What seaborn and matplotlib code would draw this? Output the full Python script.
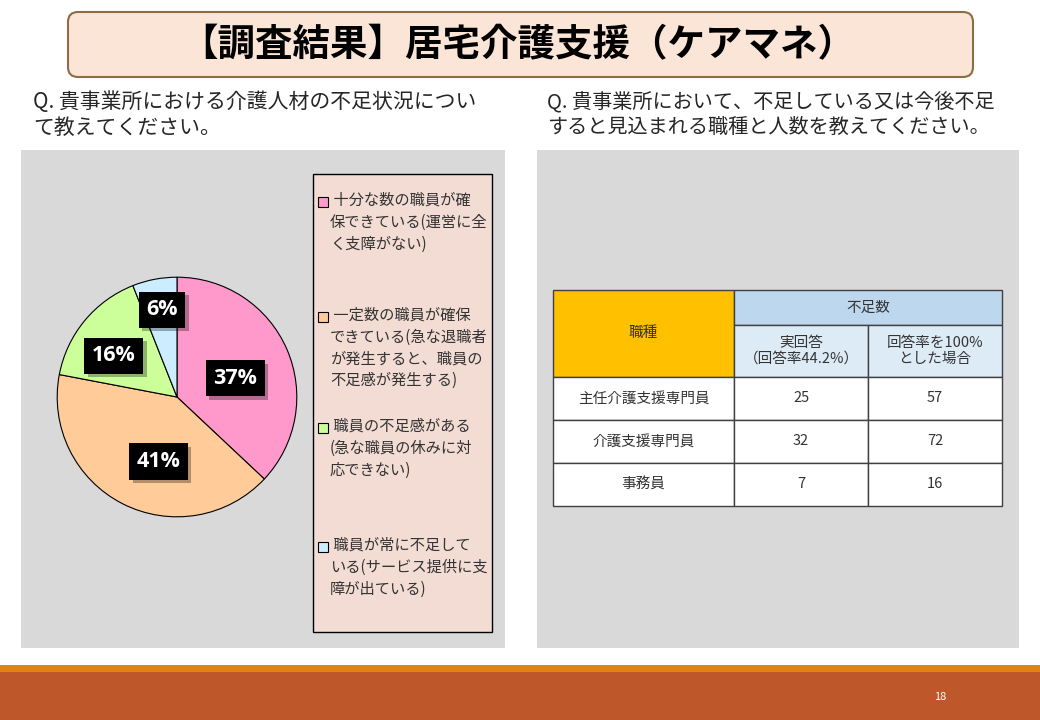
import seaborn as sns
import matplotlib.pyplot as plt
import matplotlib.patheffects as pe
import numpy as np
from matplotlib.patches import Rectangle, FancyBboxPatch

W, H = 1040, 720

# --- data ---
title = '【調査結果】居宅介護支援（ケアマネ）'
q_left = 'Q. 貴事業所における介護人材の不足状況につい\nて教えてください。'
q_right = 'Q. 貴事業所において、不足している又は今後不足\nすると見込まれる職種と人数を教えてください。'

status_labels = [
    ' 十分な数の職員が確\n保できている(運営に全\nく支障がない)',
    ' 一定数の職員が確保\nできている(急な退職者\nが発生すると、職員の\n不足感が発生する)',
    ' 職員の不足感がある\n(急な職員の休みに対\n応できない)',
    ' 職員が常に不足して\nいる(サービス提供に支\n障が出ている)',
]
status_share = [37, 41, 16, 6]
status_colors = ['#FF99CC', '#FFCC99', '#CCFF99', '#CCECFF']

table_head = '職種'
table_group = '不足数'
table_sub = ['実回答\n（回答率44.2%）', '回答率を100%\nとした場合']
job_types = ['主任介護支援専門員', '介護支援専門員', '事務員']
shortage_actual = [25, 32, 7]
shortage_full = [57, 72, 16]
page_no = '18'

sns.set_theme(style='white')
plt.rcParams['font.family'] = ['Noto Sans CJK JP', 'DejaVu Sans']

fig = plt.figure(figsize=(10.4, 7.2), dpi=100)


def box(x0, y0, x1, y1):
    return [x0 / W, 1 - y1 / H, (x1 - x0) / W, (y1 - y0) / H]


# slide background and decorations (pixel coordinates)
bg = fig.add_axes([0, 0, 1, 1])
bg.set_xlim(0, W)
bg.set_ylim(H, 0)
bg.axis('off')

bg.add_patch(FancyBboxPatch((68, 12), 905, 65, boxstyle='round,pad=0,rounding_size=10',
                            fc='#FBE5D6', ec='#8C6D46', lw=1.5))
bg.text(518, 45, title, ha='center', va='center', fontsize=27, fontweight='bold', color='black')

bg.text(33, 115, q_left, ha='left', va='center', fontsize=15, color='#262626', linespacing=1.2)
bg.text(547, 115, q_right, ha='left', va='center', fontsize=14.5, color='#262626', linespacing=1.2)

bg.add_patch(Rectangle((21, 150), 484, 498, fc='#D9D9D9', ec='none'))
bg.add_patch(Rectangle((537, 150), 482, 498, fc='#D9D9D9', ec='none'))

# legend panel
bg.add_patch(Rectangle((313, 174), 179, 458, fc='#F3DCD4', ec='black', lw=1))
legend_y = [202, 317, 428, 547]
for lab, col, y in zip(status_labels, status_colors, legend_y):
    bg.add_patch(Rectangle((318, y - 5), 10, 10, fc=col, ec='black', lw=0.8))
    bg.text(330, y - 10, lab, ha='left', va='top', fontsize=11, color='#333333', linespacing=1.36)

# footer
bg.add_patch(Rectangle((0, 665), W, 7, fc='#E1831B', ec='none'))
bg.add_patch(Rectangle((0, 672), W, 48, fc='#BE582B', ec='none'))
bg.text(940, 697, page_no, ha='center', va='center', fontsize=8, color='white')

# pie
ax = fig.add_axes(box(56, 276, 298, 518))
wedges, _ = ax.pie(status_share, colors=status_colors, startangle=90, counterclock=False,
                   wedgeprops=dict(edgecolor='black', linewidth=0.8))
ax.set_xlim(-1.01, 1.01)
ax.set_ylim(-1.01, 1.01)
ax.set_aspect('equal')
ax.axis('off')

label_r = [0.51, 0.56, 0.63, 0.74]
label_turn = [-5.5, 11, 6.5, -1]
for w, v, r, d in zip(wedges, status_share, label_r, label_turn):
    ang = np.deg2rad((w.theta1 + w.theta2) / 2 + d)
    t = ax.text(r * np.cos(ang), r * np.sin(ang), f'{v}%', ha='center', va='center',
                color='white', fontsize=15.5, fontweight='bold', family='Open Sans',
                bbox=dict(boxstyle='square,pad=0.35', fc='black', ec='none'))
    t.get_bbox_patch().set_path_effects([pe.SimplePatchShadow(offset=(2.5, -2.5), alpha=0.3),
                                         pe.Normal()])

# table
tb = fig.add_axes(box(553, 290, 1002, 506))
col_w = [181, 134, 134]
row_h = [35, 52, 43, 43, 43]
tw, th = sum(col_w), sum(row_h)
tb.set_xlim(0, tw)
tb.set_ylim(th, 0)
tb.axis('off')
edge = dict(ec='#404040', lw=1, clip_on=False)
txt = dict(ha='center', va='center', fontsize=10.5, color='#333333')

hh = row_h[0] + row_h[1]
tb.add_patch(Rectangle((0, 0), col_w[0], hh, fc='#FFC000', **edge))
tb.text(col_w[0] / 2, hh / 2, table_head, **txt)
tb.add_patch(Rectangle((col_w[0], 0), col_w[1] + col_w[2], row_h[0], fc='#BDD7EE', **edge))
tb.text(col_w[0] + (col_w[1] + col_w[2]) / 2, row_h[0] / 2, table_group, **txt)
x = col_w[0]
for lab, cw in zip(table_sub, col_w[1:]):
    tb.add_patch(Rectangle((x, row_h[0]), cw, row_h[1], fc='#DDEBF7', **edge))
    tb.text(x + cw / 2, row_h[0] + row_h[1] / 2, lab, linespacing=1.15, **txt)
    x += cw

y = hh
for job, a, f, rh in zip(job_types, shortage_actual, shortage_full, row_h[2:]):
    x = 0
    for val, cw in zip([job, a, f], col_w):
        tb.add_patch(Rectangle((x, y), cw, rh, fc='white', **edge))
        tb.text(x + cw / 2, y + rh / 2, str(val), **txt)
        x += cw
    y += rh

fig.savefig('out.png', dpi=100)
